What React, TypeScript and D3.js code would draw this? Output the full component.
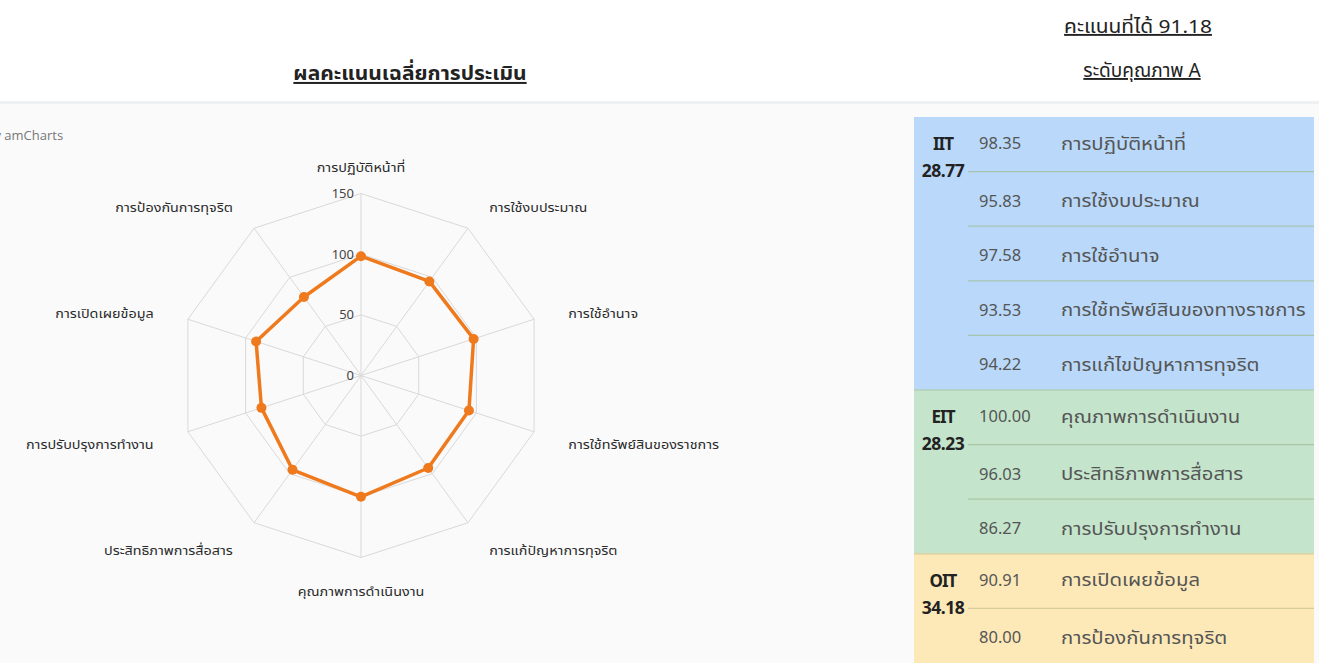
import React from "react";
import * as d3 from "d3";

const radarCategories = [
  "การปฏิบัติหน้าที่",
  "การใช้งบประมาณ",
  "การใช้อำนาจ",
  "การใช้ทรัพย์สินของราชการ",
  "การแก้ปัญหาการทุจริต",
  "คุณภาพการดำเนินงาน",
  "ประสิทธิภาพการสื่อสาร",
  "การปรับปรุงการทำงาน",
  "การเปิดเผยข้อมูล",
  "การป้องกันการทุจริต",
];
const radarValues = [98.35, 95.83, 97.58, 93.53, 94.22, 100.0, 96.03, 86.27, 90.91, 80.0];
const radialTicks = [0, 50, 100, 150];

const groupNames = ["IIT", "EIT", "OIT"];
const groupScores = [28.77, 28.23, 34.18];
const groupSizes = [5, 3, 2];
const tableValues = [98.35, 95.83, 97.58, 93.53, 94.22, 100.0, 96.03, 86.27, 90.91, 80.0];
const tableLabels = [
  "การปฏิบัติหน้าที่",
  "การใช้งบประมาณ",
  "การใช้อำนาจ",
  "การใช้ทรัพย์สินของทางราชการ",
  "การแก้ไขปัญหาการทุจริต",
  "คุณภาพการดำเนินงาน",
  "ประสิทธิภาพการสื่อสาร",
  "การปรับปรุงการทำงาน",
  "การเปิดเผยข้อมูล",
  "การป้องกันการทุจริต",
];
const totalScore = 91.18;
const qualityLevel = "A";

const W = 1319;
const H = 663;
const cx = 361;
const cy = 375.5;
const R = 182;
const thaiFont = "Tahoma, 'Noto Sans Thai', 'Leelawadee UI', 'Noto Sans', sans-serif";
const uiFont = "'Segoe UI', 'Noto Sans', 'Noto Sans Thai', Tahoma, sans-serif";

export default function App() {
  const n = radarCategories.length;
  const r = d3.scaleLinear().domain([0, 150]).range([0, R]);
  const angle = d3.scaleLinear().domain([0, n]).range([0, 2 * Math.PI]);
  const px = (i: number, v: number) => cx + r(v) * Math.sin(angle(i));
  const py = (i: number, v: number) => cy - r(v) * Math.cos(angle(i));

  const gridLevels = radialTicks.filter((t) => t > 0);
  const poly = (v: number) =>
    d3.range(n).map((i) => `${px(i, v)},${py(i, v)}`).join(" ");

  const line = d3
    .lineRadial<number>()
    .angle((_, i) => angle(i))
    .radius((d) => r(d))
    .curve(d3.curveLinearClosed);

  // table geometry
  const tX0 = 914;
  const tX1 = 1314;
  const tTop = 117;
  const rowH = 54.6;
  const col1 = 968;
  const groupColors = ["#bad9fa", "#c4e5cc", "#fde9b8"];
  const lineColors = ["#a5c4b0", "#a9c7a4", "#d8cc9c"];

  let rowStart = 0;
  const groups = groupNames.map((g, gi) => {
    const start = rowStart;
    rowStart += groupSizes[gi];
    return { g, gi, start, size: groupSizes[gi] };
  });

  return (
    <svg
      width={W}
      height={H}
      style={{ position: "absolute", left: 0, top: 0, background: "#ffffff" }}
    >
      {/* backgrounds */}
      <rect x={0} y={104} width={W} height={H - 104} fill="#fafafb" />
      <rect x={0} y={101} width={W} height={3} fill="#eef0f2" />

      {/* Titles */}
      <g transform="translate(410,80) scale(1.05,1)">
        <text
          textAnchor="middle"
          fontFamily={thaiFont}
          fontSize={20}
          fontWeight="bold"
          fill="#222"
          textDecoration="underline"
        >
          ผลคะแนนเฉลี่ยการประเมิน
        </text>
      </g>
      <g transform="translate(1138,33) scale(1.1,1)">
        <text
          textAnchor="middle"
          fontFamily={uiFont}
          fontSize={19}
          fill="#222"
          textDecoration="underline"
        >
          {`คะแนนที่ได้ ${totalScore.toFixed(2)}`}
        </text>
      </g>
      <g transform="translate(1142,77) scale(1.0,1)">
        <text
          textAnchor="middle"
          fontFamily={uiFont}
          fontSize={19}
          fill="#222"
          textDecoration="underline"
        >
          {`ระดับคุณภาพ ${qualityLevel}`}
        </text>
      </g>

      {/* amCharts credit */}
      <text x={-14} y={140} fontFamily="'Open Sans', sans-serif" fontSize={13} fill="#777">
        By amCharts
      </text>

      {/* Radar grid */}
      <g>
        {gridLevels.map((lv) => (
          <polygon key={lv} points={poly(lv)} fill="none" stroke="#d9d9d9" strokeWidth={1} />
        ))}
        {d3.range(n).map((i) => (
          <line
            key={i}
            x1={cx}
            y1={cy}
            x2={px(i, 150)}
            y2={py(i, 150)}
            stroke="#d9d9d9"
            strokeWidth={1}
          />
        ))}
        {radialTicks.map((t) => (
          <text
            key={t}
            x={cx - 7}
            y={cy - r(t)}
            dy="0.35em"
            textAnchor="end"
            fontFamily={thaiFont}
            fontSize={13}
            fill="#444"
          >
            {t}
          </text>
        ))}
      </g>

      {/* Axis labels */}
      {radarCategories.map((c, i) => {
        const a = angle(i);
        const s = Math.sin(a);
        const co = Math.cos(a);
        const anchor = s > 0.1 ? "start" : s < -0.1 ? "end" : "middle";
        const x = cx + 218 * s;
        const y = cy - 212 * co + 4;
        return (
          <g key={c} transform={`translate(${x},${y}) scale(1.15,1)`}>
            <text
              dy="0.35em"
              textAnchor={anchor}
              fontFamily={thaiFont}
              fontSize={12.5}
              fill="#2a2a2a"
            >
              {c}
            </text>
          </g>
        );
      })}

      {/* Series */}
      <g transform={`translate(${cx},${cy})`}>
        <path d={line(radarValues) || ""} fill="none" stroke="#ef7a1e" strokeWidth={3.5} strokeLinejoin="round" />
      </g>
      {radarValues.map((v, i) => (
        <circle key={i} cx={px(i, v)} cy={py(i, v)} r={5} fill="#ef7a1e" />
      ))}

      {/* Table */}
      {groups.map(({ g, gi, start, size }) => {
        const y0 = tTop + start * rowH;
        return (
          <g key={g}>
            <rect x={tX0} y={y0} width={tX1 - tX0} height={size * rowH} fill={groupColors[gi]} />
            {gi > 0 && (
              <line x1={tX0} x2={tX1} y1={y0} y2={y0} stroke={lineColors[gi]} strokeWidth={1.2} />
            )}
            <text
              x={943}
              y={y0 + 27}
              dy="0.35em"
              textAnchor="middle"
              fontFamily={uiFont}
              fontSize={17}
              fontWeight="bold"
              fill="#222"
              letterSpacing={-1}
            >
              {g}
            </text>
            <text
              x={943}
              y={y0 + 54}
              dy="0.35em"
              textAnchor="middle"
              fontFamily={uiFont}
              fontSize={17.5}
              fontWeight="bold"
              fill="#222"
              letterSpacing={-0.5}
            >
              {groupScores[gi].toFixed(2)}
            </text>
            {d3.range(size).map((k) => {
              const idx = start + k;
              const ry = y0 + k * rowH;
              const ty = ry + rowH / 2 + (k === 0 ? -1 : 2);
              return (
                <g key={idx}>
                  {k > 0 && (
                    <line x1={col1} x2={tX1} y1={ry} y2={ry} stroke={lineColors[gi]} strokeWidth={1.2} />
                  )}
                  <text
                    x={979}
                    y={ty}
                    dy="0.35em"
                    fontFamily={uiFont}
                    fontSize={16.5}
                    fill="#555"
                  >
                    {tableValues[idx].toFixed(2)}
                  </text>
                  <g transform={`translate(1061,${ty}) scale(1.13,1)`}>
                    <text dy="0.35em" fontFamily={uiFont} fontSize={18} fill="#555">
                      {tableLabels[idx]}
                    </text>
                  </g>
                </g>
              );
            })}
          </g>
        );
      })}
    </svg>
  );
}
